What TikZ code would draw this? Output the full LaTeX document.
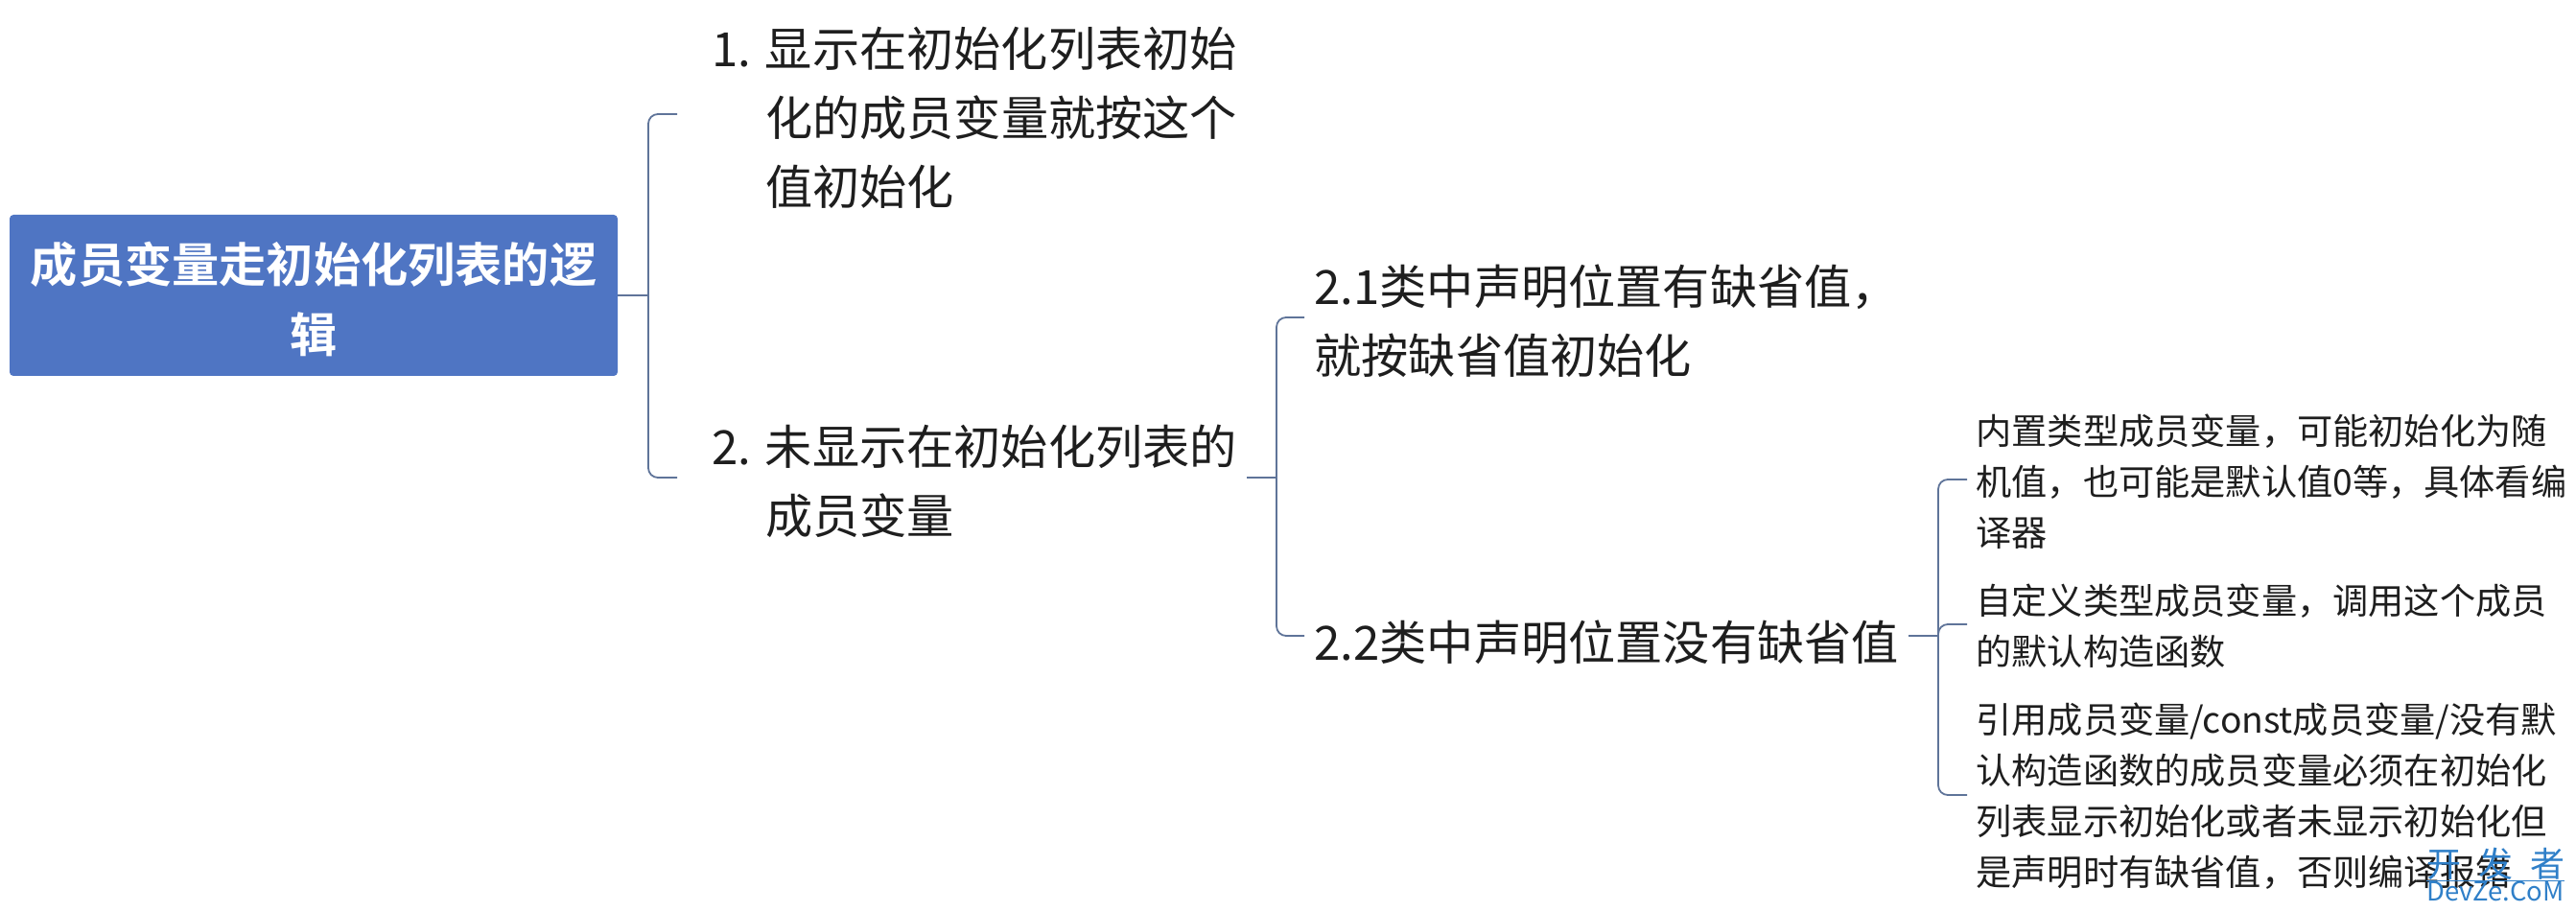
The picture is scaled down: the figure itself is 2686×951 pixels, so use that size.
\documentclass[tikz,border=0pt]{standalone}
\usepackage{fontspec}
\setmainfont{Noto Sans CJK SC}[BoldFont={Noto Sans CJK SC Bold}]
\usepackage{tikz}
\usetikzlibrary{positioning}
\definecolor{rootblue}{HTML}{4F75C3}
\definecolor{linegray}{HTML}{5F7499}
\definecolor{textdark}{HTML}{1E1E1E}
\definecolor{markblue}{HTML}{2F7FC8}
\newcommand{\numbox}[1]{\hspace*{12.8pt}\makebox[28pt][l]{#1}}
\begin{document}
\begin{tikzpicture}[x=0.5pt,y=-0.5pt,rootnode/.style={rectangle,fill=rootblue,rounded corners=2pt,text=white,minimum width=317pt,minimum height=84pt,align=center,inner sep=0pt,font=\fontsize{24.6}{36.5}\selectfont\bfseries},bignode/.style={rectangle,anchor=west,align=left,inner ysep=0pt,inner xsep=5pt,text=textdark,font=\fontsize{24.6}{36}\selectfont},smallnode/.style={rectangle,anchor=west,align=left,inner ysep=0pt,inner xsep=4.5pt,text=textdark,font=\fontsize{18.6}{26.6}\selectfont},branch/.style={draw=linegray,line width=0.9pt,rounded corners=5pt},markword/.style={rectangle,inner sep=0pt,text=markblue}]
	\useasboundingbox (0,0) rectangle (2686,951);
	
	\node [rootnode] (root) at (327, 308) {\rule{0pt}{25.5pt}成员变量走初始化列表的逻\\辑};
	\node [bignode] (n1) at (706, 123) {\numbox{1.}显示在初始化列表初始\\\numbox{}化的成员变量就按这个\\\numbox{}值初始化};
	\node [bignode] (n2) at (706, 502) {\numbox{2.}未显示在初始化列表的\\\numbox{}成员变量};
	\node [bignode] (n21) at (1360, 335) {2.1类中声明位置有缺省值，\\就按缺省值初始化};
	\node [bignode] (n22) at (1360, 670) {2.2类中声明位置没有缺省值};
	\node [smallnode] (n221) at (2051, 502) {内置类型成员变量，可能初始化为随\\机值，也可能是默认值0等，具体看编\\译器};
	\node [smallnode] (n222) at (2051, 653) {自定义类型成员变量，调用这个成员\\的默认构造函数};
	\node [smallnode] (n223) at (2051, 830) {引用成员变量/const成员变量/没有默\\认构造函数的成员变量必须在初始化\\列表显示初始化或者未显示初始化但\\是声明时有缺省值，否则编译报错};
	
	\coordinate (b0) at (676, 308);
	\coordinate (b2) at (1331, 498);
	\coordinate (b22) at (2021, 663);
	
	\draw [branch] (root.east) to (b0);
	\draw [branch] (b0) |- ([yshift=2pt]n1.west);
	\draw [branch] (b0) |- ([yshift=2pt]n2.west);
	\draw [branch] ([yshift=2pt]n2.east) to (b2);
	\draw [branch] (b2) |- ([yshift=2pt]n21.west);
	\draw [branch] (b2) |- ([yshift=3.5pt]n22.west);
	\draw [branch] ([yshift=3.5pt]n22.east) to (b22);
	\draw [branch] (b22) |- ([yshift=1pt]n221.west);
	\draw [branch] (b22) |- ([yshift=1pt]n222.west);
	\draw [branch] (b22) |- ([yshift=0.5pt]n223.west);
	
	% site mark over the last line
	\node [markword,font=\fontsize{18}{18}\selectfont] (mark1) at (2602, 901) {开\hspace{9pt}发\hspace{9pt}者};
	\node [markword,font=\fontsize{13.7}{14}\selectfont] (mark2) at (2602, 929) {DevZe.CoM};
	\draw [draw=markblue,line width=0.4pt] (mark2.north west) to (mark2.north east);
\end{tikzpicture}
\end{document}
